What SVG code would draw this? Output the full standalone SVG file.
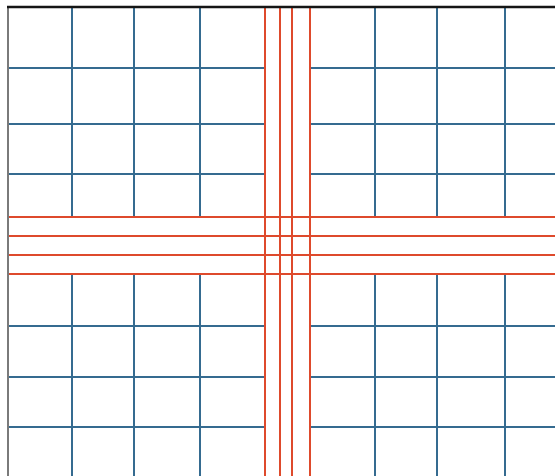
<svg xmlns="http://www.w3.org/2000/svg" width="555" height="476" viewBox="0 0 555 476">
<style>
.b{stroke:#356b90;stroke-width:2;fill:none}
.r{stroke:#de4a2c;stroke-width:2;fill:none}
</style>
<rect width="555" height="476" fill="#ffffff"/>
<g id="blue-grid" class="b">
<path d="M72 8V217M134 8V217M200 8V217M375 8V217M437 8V217M505 8V217"/>
<path d="M72 274V476M134 274V476M200 274V476M375 274V476M437 274V476M505 274V476"/>
<path d="M8 68H265M8 124H265M8 174H265M310 68H555M310 124H555M310 174H555"/>
<path d="M8 326H265M8 377H265M8 427H265M310 326H555M310 377H555M310 427H555"/>
</g>
<g id="red-cross" class="r">
<path d="M265 7V476M280 7V476M292 7V476M310 7V476"/>
<path d="M8 217H555M8 236H555M8 255H555M8 274H555"/>
</g>
<g id="border">
<path d="M8 7V476" stroke="#7a7a7a" stroke-width="2"/>
<path d="M7 7H555" stroke="#151515" stroke-width="2.5"/>
</g>
</svg>
